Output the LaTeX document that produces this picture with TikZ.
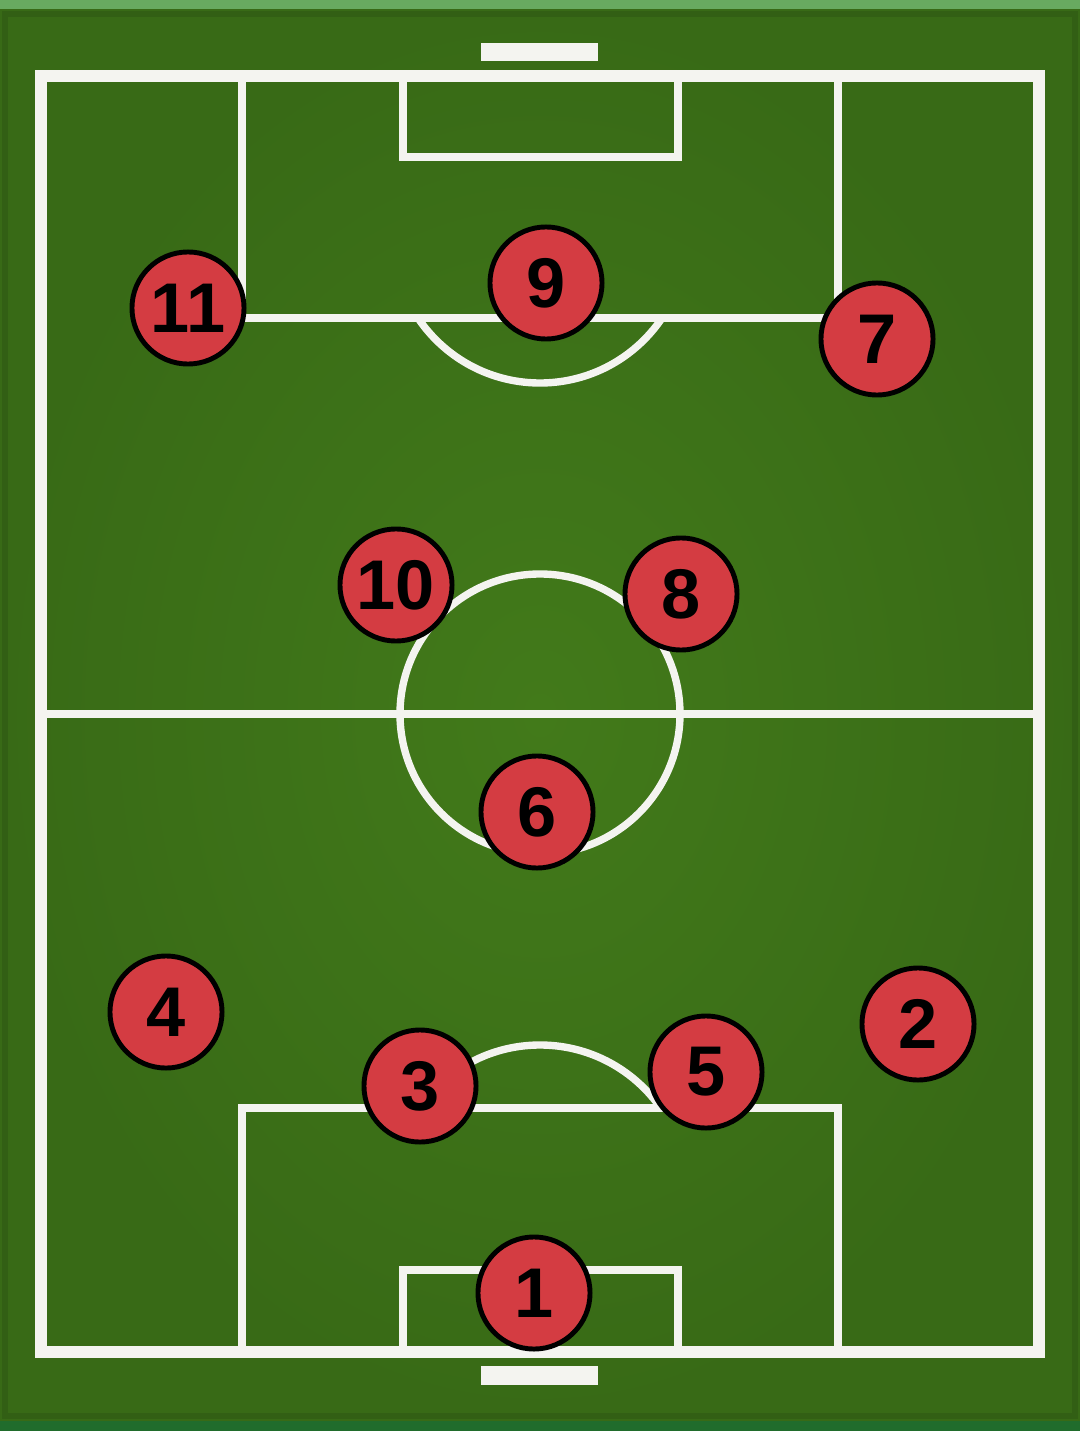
\documentclass[tikz,border=0pt]{standalone}
\usepackage{fontspec}
\setsansfont{Liberation Sans}
\usepackage{tikz}
\usetikzlibrary{positioning}
\definecolor{pitchgreen}{RGB}{66,122,26}
\definecolor{pitchdark}{RGB}{56,106,22}
\definecolor{striplight}{RGB}{104,170,96}
\definecolor{stripdark}{RGB}{32,108,44}
\definecolor{playerred}{RGB}{212,60,66}
\definecolor{chalk}{RGB}{244,244,240}

\begin{document}
\begin{tikzpicture}[x=0.01cm, y=-0.01cm,
        line/.style={draw=chalk, line width=2.1pt},
        outline/.style={draw=chalk, line width=3.4pt},
        goal/.style={fill=chalk},
        player/.style={circle, draw=black, line width=1.4pt, fill=playerred, minimum size=1.12cm, inner sep=0pt, font=\sffamily\bfseries\fontsize{20}{20}\selectfont}
    ]
        \useasboundingbox (0,0) rectangle (1080,1431);
        % background and pitch
        \fill[striplight] (0,0) rectangle (1080,10);
        \fill[stripdark] (0,1420) rectangle (1080,1431);
        \shade[inner color=pitchgreen, outer color=pitchdark] (0,10) rectangle (1080,1420);
        \draw[pitchdark!90!black, line width=1.5pt] (5,14) rectangle (1075,1416);
        % markings
        \draw[outline] (41,76) rectangle (1039,1352);
        \draw[line] (41,714) -- (1039,714);
        \draw[line] (540,714) circle[radius=140];
        \draw[line] (242,76) -- (242,318) -- (838,318) -- (838,76);
        \draw[line] (403,76) -- (403,157) -- (678,157) -- (678,76);
        \draw[line] (242,1352) -- (242,1108) -- (838,1108) -- (838,1352);
        \draw[line] (403,1352) -- (403,1270) -- (678,1270) -- (678,1352);
        \begin{scope}
            \clip (0,318) rectangle (1080,600);
            \draw[line] (540,236) circle[radius=147];
        \end{scope}
        \begin{scope}
            \clip (0,900) rectangle (1080,1108);
            \draw[line] (540,1192) circle[radius=147];
        \end{scope}
        \fill[goal] (481,43) rectangle (598,61);
        \fill[goal] (481,1366) rectangle (598,1385);
        % players
        \node[player] (gk) at (534,1293) {1};
        \node[player] (rb) at (918,1024) {2};
        \node[player] (lcb) at (420,1086) {3};
        \node[player] (lb) at (166,1012) {4};
        \node[player] (rcb) at (706,1072) {5};
        \node[player] (dm) at (537,812) {6};
        \node[player] (rw) at (877,339) {7};
        \node[player] (rcm) at (681,594) {8};
        \node[player] (st) at (546,283) {9};
        \node[player] (lcm) at (396,585) {10};
        \node[player] (lw) at (188,308) {11};
    \end{tikzpicture}
\end{document}
